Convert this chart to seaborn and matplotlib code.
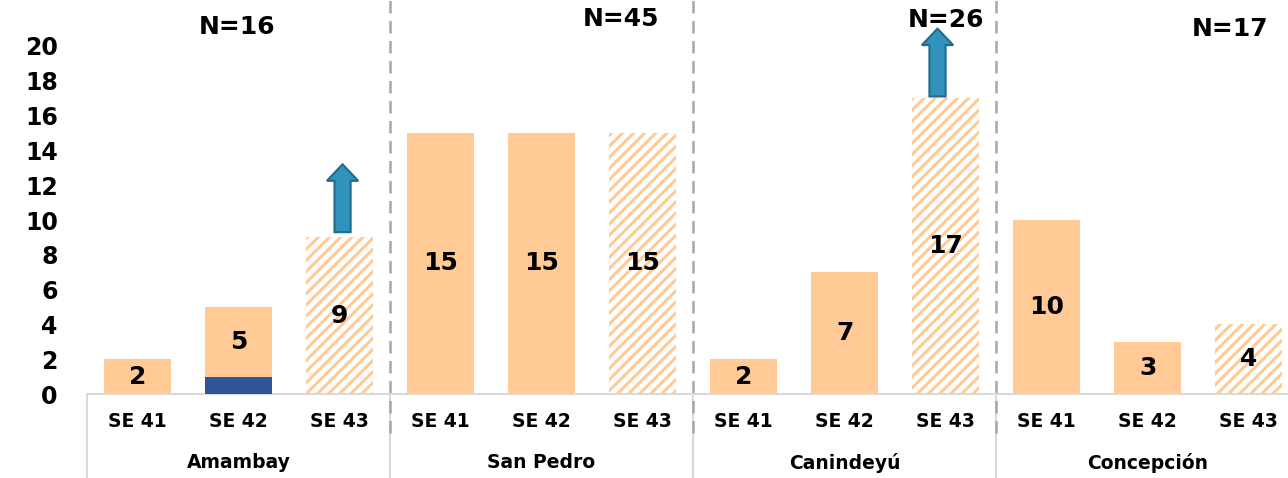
import matplotlib
matplotlib.use("Agg")
import matplotlib.pyplot as plt
import matplotlib.transforms as mtransforms
from matplotlib.patches import FancyArrow
import seaborn as sns
import pandas as pd

# ---------------- data ----------------
regions = ["Amambay", "San Pedro", "Canindeyú", "Concepción"]
weeks = ["SE 41", "SE 42", "SE 43"]
totals = [2, 5, 9, 15, 15, 15, 2, 7, 17, 10, 3, 4]
blue_part = [0, 1, 0, 0, 0, 0, 0, 0, 0, 0, 0, 0]
n_values = [16, 45, 26, 17]
arrow_bars = [("Amambay", "SE 43"), ("Canindeyú", "SE 43")]
y_ticks = [0, 2, 4, 6, 8, 10, 12, 14, 16, 18, 20]

# ---------------- style ----------------
ORANGE = "#FFCA96"
BLUE = "#2F5597"
ARROW_FC = "#3192BC"
ARROW_EC = "#1F6C8C"
GRID_GRAY = "#A6A6A6"
LIGHT = "#D9D9D9"

sns.set_style("white")
plt.rcParams["font.family"] = ["DejaVu Sans"]
plt.rcParams["hatch.linewidth"] = 2.2
plt.rcParams["text.color"] = "black"
plt.rcParams["ytick.color"] = "black"
plt.rcParams["xtick.color"] = "black"

rows = []
for gi, r in enumerate(regions):
    for wi, w in enumerate(weeks):
        i = gi * 3 + wi
        rows.append({"pos": i, "region": r, "week": w,
                     "total": totals[i], "blue": blue_part[i]})
df = pd.DataFrame(rows)

fig = plt.figure(figsize=(12.88, 4.78), dpi=100)
ax = fig.add_axes([87 / 1288, 84 / 478, (1288 - 87) / 1288, 348 / 478])

sns.barplot(data=df, x="pos", y="total", order=list(range(len(df))),
            color=ORANGE, width=0.66, saturation=1, ax=ax, zorder=2)
n_main = len(ax.patches)
sns.barplot(data=df, x="pos", y="blue", order=list(range(len(df))),
            color=BLUE, width=0.66, saturation=1, ax=ax, zorder=3)

for i, p in enumerate(ax.patches[:n_main]):
    p.set_linewidth(0)
    if df.loc[i, "week"] == "SE 43":
        p.set_facecolor("white")
        p.set_edgecolor(ORANGE)
        p.set_hatch("///")
for p in ax.patches[n_main:]:
    p.set_linewidth(0)

ax.set_xlim(-0.5, 11.39)
ax.set_ylim(0, 20)
ax.set_yticks(y_ticks)
ax.set_yticklabels([str(t) for t in y_ticks], fontsize=17, fontweight="bold",
                   color="black")
ax.tick_params(axis="y", length=0, pad=21)
ax.set_xticks([])
ax.set_xlabel("")
ax.set_ylabel("")
for s in ["top", "right", "left"]:
    ax.spines[s].set_visible(False)
ax.spines["bottom"].set_color(LIGHT)
ax.spines["bottom"].set_linewidth(1.5)

# value labels
for i, row in df.iterrows():
    base = row["blue"]
    yc = (base + row["total"]) / 2
    ax.text(row["pos"], yc, str(row["total"]), ha="center", va="center",
            fontsize=18, fontweight="bold", color="black", zorder=5)

# category axis (two levels)
trans = mtransforms.blended_transform_factory(ax.transData, ax.transAxes)
for i, row in df.iterrows():
    ax.text(row["pos"], -0.08, row["week"], transform=trans, ha="center",
            va="center", fontsize=13.5, fontweight="bold", color="black",
            clip_on=False)
for gi, r in enumerate(regions):
    ax.text(gi * 3 + 1, -0.198, r, transform=trans, ha="center",
            va="center", fontsize=13.5, fontweight="bold", color="black",
            clip_on=False)

for xb in [-0.5, 2.5, 5.5, 8.5]:
    ax.plot([xb, xb], [0, -0.25], transform=trans, color=LIGHT, lw=1.5,
            clip_on=False, zorder=1)
for xb in [2.5, 5.5, 8.5]:
    ax.plot([xb, xb], [-0.112, 1.14], transform=trans, color=GRID_GRAY,
            lw=1.8, ls=(0, (5, 3)), clip_on=False, zorder=1)

# N labels
n_pos = [(0.99, 21.1), (4.79, 21.55), (8.0, 21.5), (10.82, 20.98)]
for (x, y), n in zip(n_pos, n_values):
    ax.text(x, y, f"N={n}", ha="center", va="center", fontsize=18,
            fontweight="bold", color="black", clip_on=False, zorder=6)

# arrows
for reg, wk in arrow_bars:
    r = df[(df.region == reg) & (df.week == wk)].iloc[0]
    x = r["pos"] + (0.03 if reg == "Amambay" else -0.08)
    y0 = r["total"] + (0.3 if reg == "Amambay" else 0.1)
    arr = FancyArrow(x, y0, 0, 3.9, width=0.16, head_width=0.31,
                     head_length=0.95, length_includes_head=True,
                     facecolor=ARROW_FC, edgecolor=ARROW_EC, linewidth=1.5,
                     clip_on=False, zorder=7)
    ax.add_patch(arr)

fig.savefig("out.png", dpi=100)
